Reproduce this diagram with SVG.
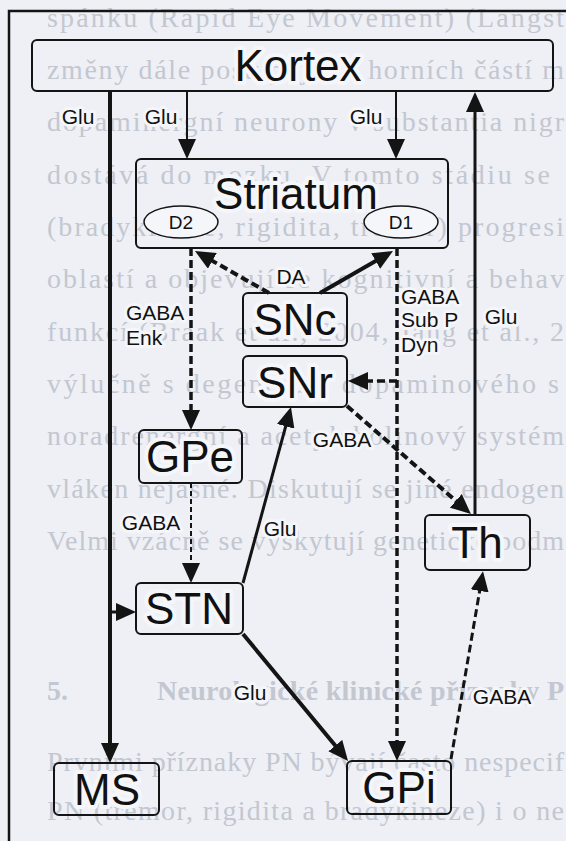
<svg xmlns="http://www.w3.org/2000/svg" width="566" height="841" viewBox="0 0 566 841">
<defs>
<marker id="ah" viewBox="0 0 20 18" refX="8" refY="9" markerWidth="20" markerHeight="18" markerUnits="userSpaceOnUse" orient="auto"><path d="M0,0 L20,9 L0,18 z" fill="#141414"/></marker>
</defs>
<style>
.bg{font-family:"Liberation Serif","Times New Roman",serif;font-size:28px;fill:#c3c7d0}
.bgb{font-weight:bold}
.box{fill:none;stroke:#141414;stroke-width:2}
.ell{fill:#f5f6fa;stroke:#141414;stroke-width:1.5}
.big{font-family:"Liberation Sans",Arial,sans-serif;font-size:44px;fill:#111;text-anchor:middle;paint-order:stroke;stroke:#f5f6fa;stroke-width:8;stroke-linejoin:round}
.sm{font-family:"Liberation Sans",Arial,sans-serif;font-size:21px;fill:#111;paint-order:stroke;stroke:#f5f6fa;stroke-width:6;stroke-linejoin:round}
.d{font-size:19px;text-anchor:middle}
.c{text-anchor:middle}
.ln{fill:none;stroke:#141414;marker-end:url(#ah)}
.dash{stroke-dasharray:8 4}
</style>
<rect x="0" y="0" width="566" height="841" fill="#eef0f6"/>
<g id="page-text">
<text class="bg" x="47" y="27" textLength="517" lengthAdjust="spacing">spánku (Rapid Eye Movement) (Langst</text>
<text class="bg" x="47" y="79" textLength="517" lengthAdjust="spacing">změny dále postupují do horních částí m</text>
<text class="bg" x="47" y="131" textLength="517" lengthAdjust="spacing">dopaminergní neurony v substantia nigr</text>
<text class="bg" x="47" y="184" textLength="503" lengthAdjust="spacing">dostává do mozku. V tomto stádiu se</text>
<text class="bg" x="47" y="236" textLength="517" lengthAdjust="spacing">(bradykineze, rigidita, tremor) progresi</text>
<text class="bg" x="47" y="288" textLength="517" lengthAdjust="spacing">oblastí a objevují se kognitivní a behav</text>
<text class="bg" x="47" y="341" textLength="517" lengthAdjust="spacing">funkcí (Braak et al., 2004, Jang et al., 2</text>
<text class="bg" x="47" y="393" textLength="512" lengthAdjust="spacing">výlučně s degenerací dopaminového s</text>
<text class="bg" x="47" y="445" textLength="517" lengthAdjust="spacing">noradrenergní a acetylcholinový systém</text>
<text class="bg" x="47" y="498" textLength="517" lengthAdjust="spacing">vláken nejasné. Diskutují se jiné endogen</text>
<text class="bg" x="47" y="550" textLength="517" lengthAdjust="spacing">Velmi vzácně se vyskytují genetické podm</text>
<text class="bg bgb" x="47" y="700">5.</text>
<text class="bg bgb" x="157" y="700" textLength="407" lengthAdjust="spacing">Neurologické klinické příznaky P</text>
<text class="bg" x="47" y="771" textLength="517" lengthAdjust="spacing">Prvními příznaky PN bývají často nespecif</text>
<text class="bg" x="47" y="820" textLength="517" lengthAdjust="spacing">PN (tremor, rigidita a bradykineze) i o ne</text>
</g>
<path id="frame" d="M9,841 V11 H566" fill="none" stroke="#141414" stroke-width="2.5"/>
<g id="connectors">
<line class="ln" x1="110" y1="91" x2="110" y2="751" stroke-width="4"/>
<line class="ln" x1="110" y1="612" x2="124" y2="612" stroke-width="3"/>
<line class="ln" x1="187" y1="91" x2="187" y2="147" stroke-width="2"/>
<line class="ln" x1="396" y1="91" x2="396" y2="147" stroke-width="2"/>
<line class="ln" x1="475" y1="515" x2="475" y2="104" stroke-width="3"/>
<line class="ln dash" x1="269" y1="293" x2="205.4" y2="256.9" stroke-width="4"/>
<line class="ln" x1="320" y1="293" x2="382.6" y2="257" stroke-width="4"/>
<line class="ln dash" x1="191" y1="248" x2="191" y2="418" stroke-width="3.5"/>
<line class="ln dash" x1="397" y1="248" x2="397" y2="749" stroke-width="3.5"/>
<line class="ln dash" x1="397" y1="381" x2="360" y2="381" stroke-width="3.5"/>
<line class="ln dash" x1="347" y1="406" x2="461.9" y2="506.1" stroke-width="4"/>
<line class="ln" x1="191" y1="483" x2="191" y2="571" stroke-width="2" stroke-dasharray="5 3"/>
<line class="ln" x1="243" y1="583" x2="287.8" y2="418.6" stroke-width="3"/>
<line class="ln" x1="243" y1="634" x2="340.4" y2="751.8" stroke-width="4"/>
<line class="ln dash" x1="451" y1="759" x2="481" y2="583" stroke-width="3"/>
<text class="sm c" x="78" y="124">Glu</text>
<text class="sm c" x="161" y="124">Glu</text>
<text class="sm c" x="366" y="124">Glu</text>
<text class="sm c" x="291" y="284">DA</text>
<text class="sm" x="126" y="320">GABA</text>
<text class="sm" x="126" y="345">Enk</text>
<text class="sm" x="401" y="304">GABA</text>
<text class="sm" x="401" y="327">Sub P</text>
<text class="sm" x="401" y="352">Dyn</text>
<text class="sm c" x="501" y="324">Glu</text>
<text class="sm c" x="342" y="447">GABA</text>
<text class="sm c" x="151" y="530">GABA</text>
<text class="sm c" x="280" y="536">Glu</text>
<text class="sm c" x="250" y="700">Glu</text>
<text class="sm c" x="502" y="704">GABA</text>
</g>
<g id="kortex"><rect class="box" x="32" y="40" width="521" height="51" rx="5"/><text class="big" x="298" y="81">Kortex</text></g>
<g id="striatum"><rect class="box" x="136" y="159" width="312" height="89" rx="5"/><text class="big" x="296" y="209" font-size="43">Striatum</text></g>
<g id="d2"><ellipse class="ell" cx="181" cy="222" rx="37" ry="16"/><text class="sm d" x="181" y="229">D2</text></g>
<g id="d1"><ellipse class="ell" cx="401" cy="222" rx="37" ry="16"/><text class="sm d" x="401" y="229">D1</text></g>
<g id="snc"><rect class="box" x="243" y="293" width="104" height="53" rx="5"/><text class="big" x="295" y="335">SNc</text></g>
<g id="snr"><rect class="box" x="243" y="356" width="104" height="51" rx="5"/><text class="big" x="295" y="398">SNr</text></g>
<g id="gpe"><rect class="box" x="139" y="430" width="103" height="53" rx="5"/><text class="big" x="190" y="472">GPe</text></g>
<g id="th"><rect class="box" x="425" y="515" width="105" height="55" rx="5"/><text class="big" x="477" y="558">Th</text></g>
<g id="stn"><rect class="box" x="136" y="583" width="107" height="51" rx="5"/><text class="big" x="189" y="624">STN</text></g>
<g id="gpi"><rect class="box" x="347" y="761" width="104" height="53" rx="5"/><text class="big" x="399" y="803">GPi</text></g>
<g id="ms"><rect class="box" x="54" y="763" width="105" height="52" rx="5"/><text class="big" x="107" y="805">MS</text></g>
</svg>
